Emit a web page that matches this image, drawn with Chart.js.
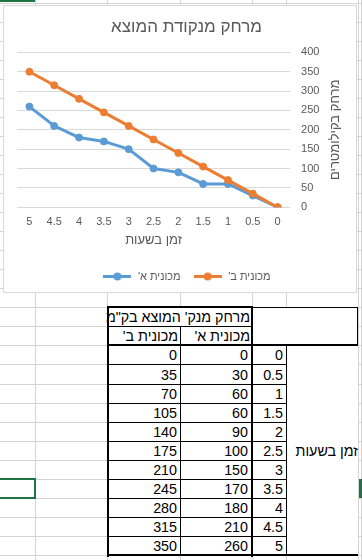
<!DOCTYPE html>
<html lang="he">
<head>
<meta charset="utf-8">
<title>מרחק מנקודת המוצא</title>
<script src="https://cdn.jsdelivr.net/npm/chart.js@4.4.1/dist/chart.umd.min.js"></script>
<style>
  html, body { margin: 0; padding: 0; background: #fff; }
  body { width: 362px; height: 560px; position: relative; overflow: hidden; font-family: "Liberation Sans", Arial, sans-serif; }
  .ln { position: absolute; }
  .grid { background: #d4d4d4; }
  .bd { background: #000; }
  .sel { background: #217346; }
  #chartBox { position: absolute; left: 3px; top: 5px; width: 352px; height: 286px; border: 1px solid #d9d9d9; background: #fff; z-index: 1; }
  #chart { position: absolute; left: 4px; top: 6px; z-index: 2; }
  #tableBg { position: absolute; left: 108px; top: 307px; width: 250px; height: 249px; background: #fff; z-index: 1; }
  #selCell { position: absolute; left: -5px; top: 478px; width: 41px; height: 21px; box-sizing: border-box; border: 2px solid #217346; z-index: 3; }
  .cell { position: absolute; z-index: 4; box-sizing: border-box; padding-right: 3px; font-size: 14.3px; color: #000; text-align: right; white-space: nowrap; direction: rtl; }
</style>
</head>
<body>
<div id="chartBox"></div>
<canvas id="chart" width="352" height="300" dir="rtl"></canvas>
<div id="tableBg"></div>
<div id="selCell"></div>
<script>
// data read from the sheet
const hours = ["0", "0.5", "1", "1.5", "2", "2.5", "3", "3.5", "4", "4.5", "5"];
const carA = [0, 30, 60, 60, 90, 100, 150, 170, 180, 210, 260];
const carB = [0, 35, 70, 105, 140, 175, 210, 245, 280, 315, 350];
const yMax = 400;
const yStep = 50;

const chartTitle = "מרחק מנקודת המוצא";
const xTitle = "זמן בשעות";
const yTitle = "מרחק בקילומטרים";
const nameA = "מכונית א'";
const nameB = "מכונית ב'";
const tableHeader = "מרחק מנק' המוצא בק\"מ";

const blue = "#5b9bd5";
const orange = "#ed7d31";
const textGrey = "#595959";
const font = '"Liberation Sans", Arial, sans-serif';

// excel sheet grid
const rowH = 19.05;
const firstRow = 307.3;
const rowY = (k) => Math.round(firstRow + rowH * k);

function addLine(cls, x, y, w, h, z) {
  const d = document.createElement("div");
  d.className = "ln " + cls;
  d.style.cssText = `left:${x}px;top:${y}px;width:${w}px;height:${h}px;z-index:${z}`;
  document.body.appendChild(d);
}

for (let k = -16; k <= 13; k++) addLine("grid", 0, rowY(k), 362, 1, 0);
[35, 107, 180, 252, 286, 358, 361].forEach((x) => addLine("grid", x, 0, 1, 560, 0));
addLine("sel", 0, 0, 35, 2, 3);
addLine("sel", 359, 479, 3, 19, 3);

// table borders
addLine("bd", 107, 306, 146, 2, 3);
addLine("bd", 252, 307, 106, 1, 3);
addLine("bd", 107, 306, 2, 251, 3);
addLine("bd", 251, 306, 2, 251, 3);
addLine("bd", 107, rowY(2) - 1, 251, 2, 3);
addLine("bd", 107, rowY(13) - 1, 251, 2, 3);
addLine("bd", 357, 307, 1, rowY(2) - 307, 3);
addLine("bd", 108, rowY(1), 144, 1, 3);
addLine("bd", 180, rowY(1), 1, rowY(13) - rowY(1), 3);
addLine("bd", 286, rowY(2), 1, rowY(13) - rowY(2), 3);
for (let k = 3; k <= 12; k++) addLine("bd", 108, rowY(k), 179, 1, 3);

function addCell(text, x1, x2, y1, y2, pad) {
  const d = document.createElement("div");
  d.className = "cell";
  d.textContent = text;
  const h = y2 - y1;
  d.style.cssText = `left:${x1}px;top:${y1 + 1}px;width:${x2 - x1}px;height:${h}px;line-height:${h}px;` +
    (pad !== undefined ? `padding-right:${pad}px;` : "");
  document.body.appendChild(d);
}

addCell(tableHeader, 108, 251, rowY(0), rowY(1), 1);
addCell(nameB, 108, 180, rowY(1), rowY(2), 2);
addCell(nameA, 181, 251, rowY(1), rowY(2), 1);
hours.forEach((h, i) => {
  const y1 = rowY(i + 2), y2 = rowY(i + 3);
  addCell(String(carB[i]), 108, 180, y1, y2);
  addCell(String(carA[i]), 181, 251, y1, y2);
  addCell(h, 253, 286, y1, y2);
});
addCell(xTitle, 287, 358, rowY(2), rowY(13), 0);

// legend marker: line with a dot, like excel
function legendMarker(color) {
  const c = document.createElement("canvas");
  c.width = 28;
  c.height = 9;
  const g = c.getContext("2d");
  g.strokeStyle = color;
  g.lineWidth = 3;
  g.beginPath();
  g.moveTo(0, 4.5);
  g.lineTo(28, 4.5);
  g.stroke();
  g.fillStyle = color;
  g.beginPath();
  g.arc(14, 4.5, 4, 0, Math.PI * 2);
  g.fill();
  return c;
}
const markers = [legendMarker(orange), legendMarker(blue)];

// y title drawn rotated the excel way (reads upward)
const yTitlePlugin = {
  id: "yTitle",
  afterDraw(chart) {
    const area = chart.chartArea;
    const c = chart.ctx;
    c.save();
    c.font = `13px ${font}`;
    c.fillStyle = textGrey;
    c.textAlign = "center";
    c.textBaseline = "middle";
    c.translate(area.right + 45, (area.top + area.bottom) / 2);
    c.rotate(-Math.PI / 2);
    c.fillText(yTitle, 0, 0);
    c.restore();
  },
};

const lineStyle = (color) => ({
  borderColor: color,
  backgroundColor: color,
  borderWidth: 3,
  borderJoinStyle: "round",
  borderCapStyle: "round",
  pointRadius: 3.5,
  pointBorderWidth: 1,
  pointBackgroundColor: color,
  pointBorderColor: color,
  tension: 0,
});

const ctx = document.getElementById("chart").getContext("2d");
new Chart(ctx, {
  type: "line",
  data: {
    labels: hours,
    datasets: [
      { label: nameB, data: carB, ...lineStyle(orange) },
      { label: nameA, data: carA, ...lineStyle(blue) },
    ],
  },
  options: {
    responsive: false,
    animation: false,
    devicePixelRatio: 1,
    layout: { padding: { left: 13, right: 0, top: 11, bottom: 14 } },
    scales: {
      x: {
        reverse: true,
        offset: true,
        grid: { display: false, drawTicks: false },
        border: { display: false },
        ticks: { color: textGrey, font: { family: font, size: 11 }, padding: 8, maxRotation: 0, autoSkip: false },
        title: { display: true, text: xTitle, color: textGrey, font: { family: font, size: 13 }, padding: { top: -4, bottom: 11 } },
      },
      y: {
        position: "right",
        min: 0,
        max: yMax,
        ticks: { stepSize: yStep, padding: 11, color: textGrey, font: { family: font, size: 11 } },
        grid: { color: "#d9d9d9", drawTicks: false },
        border: { display: false },
        title: { display: true, text: yTitle, color: "rgba(0,0,0,0)", font: { family: font, size: 13 }, padding: { top: 0, bottom: 10 } },
      },
    },
    plugins: {
      title: {
        display: true,
        text: chartTitle,
        color: textGrey,
        font: { family: font, size: 17, weight: "normal" },
        padding: { top: 0, bottom: 15 },
      },
      legend: {
        position: "bottom",
        reverse: true,
        labels: {
          usePointStyle: true,
          pointStyleWidth: 30,
          padding: 12,
          color: textGrey,
          font: { family: font, size: 11 },
          generateLabels(chart) {
            const items = Chart.defaults.plugins.legend.labels.generateLabels(chart);
            items.forEach((it) => { it.pointStyle = markers[it.datasetIndex]; });
            return items;
          },
        },
      },
      tooltip: { enabled: false },
    },
  },
  plugins: [yTitlePlugin],
});
</script>
</body>
</html>
